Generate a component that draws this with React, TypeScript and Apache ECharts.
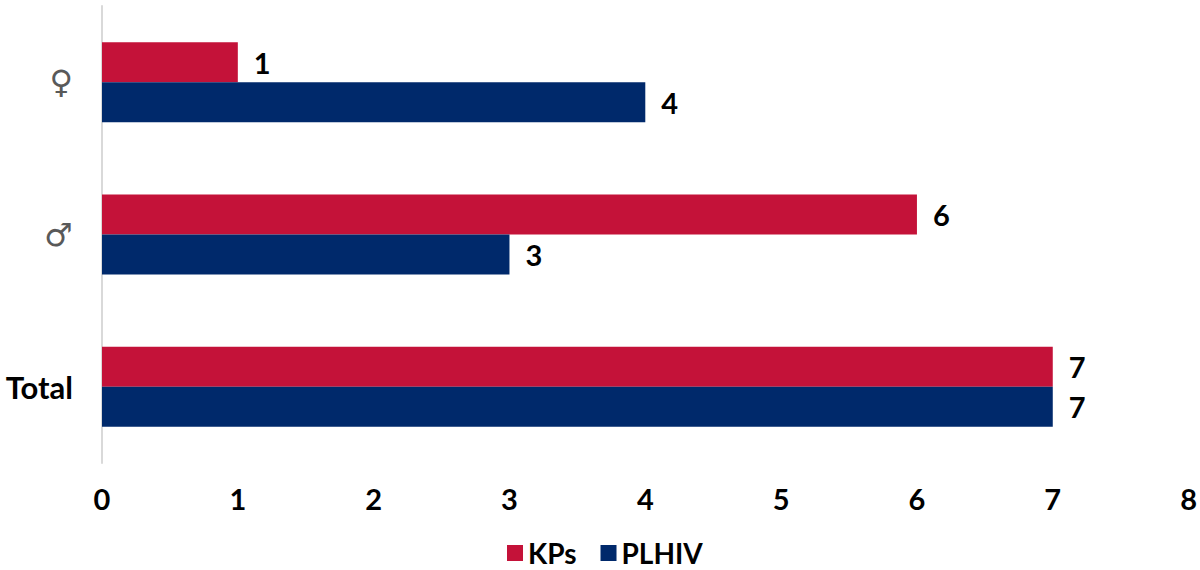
import React, { useEffect, useRef } from "react";
import * as echarts from "echarts";

const categories = ["♀", "♂", "Total"];
const seriesNames = ["KPs", "PLHIV"];
const kpsValues = [1, 6, 7];
const plhivValues = [4, 3, 7];
const xTicks = [0, 1, 2, 3, 4, 5, 6, 7, 8];

const RED = "#C41239";
const BLUE = "#00296B";
const FONT = "Lato, 'DejaVu Sans', sans-serif";

export default function App() {
  const ref = useRef<HTMLDivElement>(null);
  useEffect(() => {
    if (!ref.current) return;
    const chart = echarts.init(ref.current, undefined, { renderer: "svg" });
    const labelStyle = {
      show: true,
      position: "right",
      distance: 16,
      color: "#000",
      fontWeight: "bold",
      fontSize: 29,
      fontFamily: FONT,
    };
    chart.setOption({
      animation: false,
      backgroundColor: "#fff",
      grid: { left: 102, right: 2, top: 6, bottom: 107, containLabel: false },
      legend: {
        data: seriesNames,
        left: 507,
        top: 538,
        padding: 0,
        itemWidth: 16,
        itemHeight: 16,
        itemGap: 24,
        icon: "rect",
        textStyle: {
          fontSize: 28,
          lineHeight: 30,
          fontWeight: "bold",
          color: "#000",
          fontFamily: FONT,
        },
      },
      xAxis: {
        type: "value",
        min: xTicks[0],
        max: xTicks[xTicks.length - 1],
        interval: 1,
        axisLine: { show: false },
        axisTick: { show: false },
        splitLine: { show: false },
        axisLabel: {
          margin: 21,
          fontSize: 29,
          fontWeight: "bold",
          color: "#000",
          fontFamily: FONT,
        },
      },
      yAxis: {
        type: "category",
        inverse: true,
        data: categories,
        axisLine: { show: true, lineStyle: { color: "#d9d9d9", width: 2 } },
        axisTick: { show: false },
        axisLabel: {
          margin: 29,
          formatter: (v: string) => (v === "Total" ? `{t|${v}}` : `{s|${v}}`),
          rich: {
            t: { fontSize: 31, fontWeight: "bold", color: "#000", fontFamily: FONT },
            s: { fontSize: 32, color: "#595959", fontFamily: "'DejaVu Sans', sans-serif" },
          },
        },
      },
      series: [
        {
          name: seriesNames[0],
          type: "bar",
          data: kpsValues,
          barWidth: 40,
          barGap: "0%",
          itemStyle: { color: RED },
          label: labelStyle,
        },
        {
          name: seriesNames[1],
          type: "bar",
          data: plhivValues,
          barWidth: 40,
          barGap: "0%",
          itemStyle: { color: BLUE },
          label: labelStyle,
        },
      ],
    });
    return () => chart.dispose();
  }, []);
  return <div ref={ref} style={{ width: 1200, height: 570, position: "absolute", left: 0, top: 0 }} />;
}
